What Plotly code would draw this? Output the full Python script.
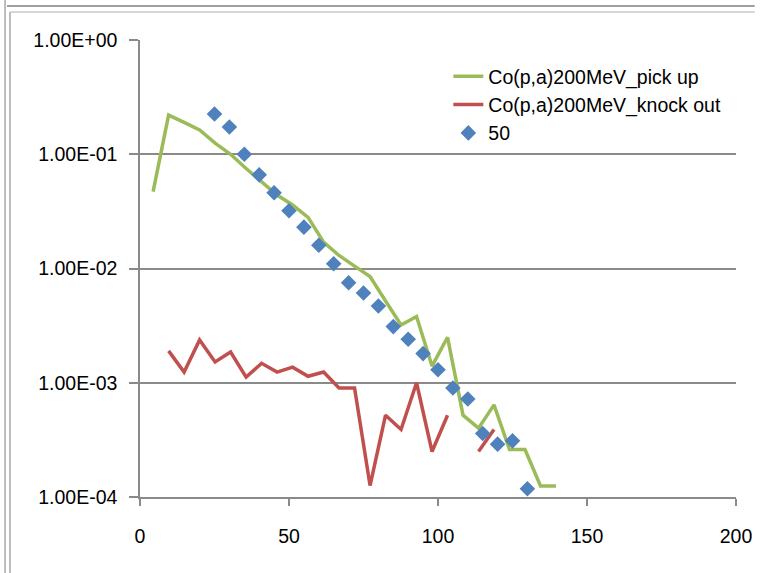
import plotly.graph_objects as go

# ---- data ----
pick_x = [4.4, 9.6, 14.8, 20.0, 25.2, 30.4, 35.6, 40.8, 46.0, 51.2, 56.4, 61.6, 66.8,
          72.0, 77.2, 82.4, 87.6, 92.8, 98.0, 103.2, 108.4, 113.6, 118.8, 124.0, 129.2,
          134.4, 139.6]
pick_y = [0.047, 0.22, 0.19, 0.163, 0.125, 0.10, 0.075, 0.057, 0.044, 0.036, 0.028, 0.017,
          0.013, 0.0105, 0.0085, 0.0052, 0.0032, 0.0038, 0.0014, 0.0025, 0.00052, 0.00040,
          0.00064, 0.00026, 0.00026, 0.000125, 0.000125]

knock_x = [9.6, 14.8, 20.0, 25.2, 30.4, 35.6, 40.8, 46.0, 51.2, 56.4, 61.6, 66.8, 72.0,
           77.2, 82.4, 87.6, 92.8, 98.0, 103.2, 108.4, 113.6, 118.8]
knock_y = [0.0019, 0.00124, 0.00237, 0.00152, 0.00186, 0.00112, 0.00148, 0.00124, 0.00137,
           0.00114, 0.00124, 0.00090, 0.00090, 0.000126, 0.00052, 0.00039, 0.0010, 0.00025,
           0.00052, None, 0.00025, 0.00039]

d50_x = [25, 30, 35, 40, 45, 50, 55, 60, 65, 70, 75, 80, 85, 90, 95, 100, 105, 110, 115,
         120, 125, 130]
d50_y = [0.225, 0.173, 0.10, 0.066, 0.046, 0.032, 0.023, 0.016, 0.011, 0.0075, 0.0061,
         0.0047, 0.0031, 0.0024, 0.0018, 0.0013, 0.00090, 0.00072, 0.00036, 0.00029,
         0.00031, 0.000118]

y_tickvals = [1e-4, 1e-3, 1e-2, 1e-1, 1]
y_ticktext = ["1.00E-04", "1.00E-03", "1.00E-02", "1.00E-01", "1.00E+00"]
x_tickvals = [0, 50, 100, 150, 200]

names = ["Co(p,a)200MeV_pick up", "Co(p,a)200MeV_knock out", "50"]

FONT = "Liberation Sans, Arial, sans-serif"
GRID = "#8a8a8a"

fig = go.Figure()
fig.add_trace(go.Scatter(x=pick_x, y=pick_y, mode="lines", name=names[0],
                         line=dict(color="#9BBB59", width=3.5)))
fig.add_trace(go.Scatter(x=knock_x, y=knock_y, mode="lines", name=names[1],
                         connectgaps=False,
                         line=dict(color="#C0504D", width=3.5)))
fig.add_trace(go.Scatter(x=d50_x, y=d50_y, mode="markers", name=names[2],
                         marker=dict(symbol="diamond", size=12, color="#4F81BD")))

# plot area in pixels: x 140..745, y 40..497
L, R, T, B = 140, 745, 40, 497
W, H = 764, 573


def px(xp):
    return (xp - L) / (R - L)


def py(yp):
    return (B - yp) / (B - T)


shapes = [
    dict(type="line", xref="paper", yref="paper", x0=px(3), x1=px(3), y0=py(0), y1=py(573),
         line=dict(color="#a8a8a8", width=1.5)),
    dict(type="line", xref="paper", yref="paper", x0=px(8), x1=px(8), y0=py(12), y1=py(573),
         line=dict(color="#a8a8a8", width=1.5)),
    dict(type="line", xref="paper", yref="paper", x0=px(5), x1=px(764), y0=py(6), y1=py(6),
         line=dict(color="#a0a0a0", width=2)),
    dict(type="line", xref="paper", yref="paper", x0=px(8), x1=px(764), y0=py(12), y1=py(12),
         line=dict(color="#c8c8c8", width=1.5)),
]

fig.update_layout(
    width=W, height=H,
    margin=dict(l=L, r=W - R, t=T, b=H - B),
    paper_bgcolor="white", plot_bgcolor="white",
    font=dict(family=FONT, size=19.5, color="black"),
    showlegend=True,
    legend=dict(x=px(453), y=py(57), xanchor="left", yanchor="top",
                bgcolor="rgba(0,0,0,0)", font=dict(family=FONT, size=19.5, color="black"),
                tracegroupgap=0),
    shapes=shapes,
    xaxis=dict(range=[0, 200], tickvals=x_tickvals, showgrid=False, zeroline=False,
               showline=True, linecolor=GRID, linewidth=1.5,
               ticks="outside", ticklen=7, tickcolor=GRID, tickwidth=1.5,
               ticklabelstandoff=14, tickfont=dict(family=FONT, size=19.5)),
    yaxis=dict(type="log", range=[-4, 0], tickvals=y_tickvals, ticktext=y_ticktext,
               showgrid=True, gridcolor=GRID, gridwidth=1.5, zeroline=False,
               showline=True, linecolor=GRID, linewidth=1.5,
               ticks="outside", ticklen=9, tickcolor=GRID, tickwidth=1.5,
               ticklabelstandoff=8, tickfont=dict(family=FONT, size=19.5)),
)

fig.write_html("out.html")
